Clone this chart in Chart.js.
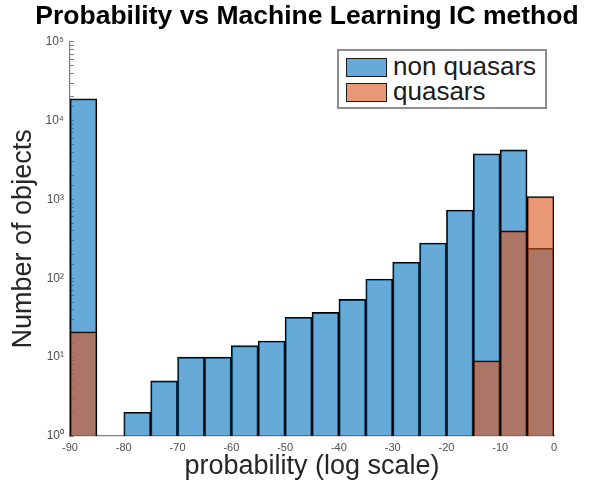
<!DOCTYPE html>
<html lang="en">
    <head>
        <meta charset="UTF-8" />
        <title>Probability vs Machine Learning IC method</title>
        <script src="https://cdn.jsdelivr.net/npm/chart.js"></script>
        <style>
            body {
                margin: 0;
                background: #fff;
                font-family: "Liberation Sans", Arial, sans-serif;
            }
            .wrap {
                position: relative;
                width: 594px;
                height: 483px;
            }
            .legend {
                position: absolute;
                left: 337px;
                top: 49px;
                width: 206px;
                height: 56px;
                border: 2px solid #8c8c8c;
                background: #fff;
            }
            .legend .item {
                position: absolute;
                left: 7px;
                height: 25px;
                line-height: 25px;
                font-size: 26px;
                color: #1a1a1a;
                white-space: nowrap;
            }
            .legend .swatch {
                position: absolute;
                left: 0;
                width: 39px;
                height: 17px;
                border: 1.5px solid #1a1a1a;
            }
            .legend .text {
                position: absolute;
                left: 47px;
                top: 0;
            }
        </style>
    </head>
    <body>
        <div class="wrap">
            <canvas id="histChart" width="594" height="483"></canvas>
            <div class="legend" id="legend"></div>
        </div>

        <script>
            // bin centres (5 wide, -90 .. 0)
            const binCenters = [-87.5, -82.5, -77.5, -72.5, -67.5, -62.5, -57.5, -52.5, -47.5, -42.5, -37.5, -32.5, -27.5, -22.5, -17.5, -12.5, -7.5, -2.5];
            const nonQuasars = [18900, null, 2, 5, 10, 10, 14, 16, 32, 37, 54, 98, 160, 280, 735, 3800, 4250, 240];
            const quasars = [21, null, null, null, null, null, null, null, null, null, null, null, null, null, null, 9, 400, 1090];
            const xTicks = [-90, -80, -70, -60, -50, -40, -30, -20, -10, 0];
            const yDecades = [1, 10, 100, 1000, 10000, 100000];
            const supers = ["⁰", "¹", "²", "³", "⁴", "⁵"];

            const blue = "rgba(0, 114, 189, 0.6)";
            const orange = "rgba(217, 83, 25, 0.6)";

            const toPoints = (vals) => binCenters.map((x, i) => ({ x: x, y: vals[i] }));

            const chart = new Chart(document.getElementById("histChart"), {
                type: "bar",
                data: {
                    datasets: [
                        {
                            label: "non quasars",
                            data: toPoints(nonQuasars),
                            backgroundColor: blue,
                            borderColor: "#000",
                            borderWidth: 1.2,
                            order: 2,
                        },
                        {
                            label: "quasars",
                            data: toPoints(quasars),
                            backgroundColor: orange,
                            borderColor: "#000",
                            borderWidth: 1.2,
                            order: 1,
                        },
                    ],
                },
                options: {
                    responsive: false,
                    animation: false,
                    grouped: false,
                    barPercentage: 1,
                    categoryPercentage: 1,
                    layout: { padding: { left: 20, right: 0, top: 0, bottom: 0 } },
                    plugins: {
                        legend: { display: false },
                        tooltip: { enabled: false },
                        title: {
                            display: true,
                            text: "Probability vs Machine Learning IC method",
                            color: "#000",
                            font: { family: "Liberation Sans", size: 26.5, weight: "bold", lineHeight: 1.2 },
                            padding: { top: 1, bottom: 9 },
                        },
                    },
                    scales: {
                        x: {
                            type: "linear",
                            min: -90,
                            max: 0,
                            offset: false,
                            afterBuildTicks: (scale) => {
                                scale.ticks = xTicks.map((v) => ({ value: v }));
                            },
                            afterFit: (scale) => {
                                scale.height = 47;
                            },
                            ticks: {
                                color: "#4d4d4d",
                                font: { family: "Liberation Sans", size: 11 },
                                padding: 5,
                                maxRotation: 0,
                                autoSkip: false,
                            },
                            grid: { display: true, drawOnChartArea: false, drawTicks: false },
                            border: { color: "#808080", width: 1.2 },
                            title: {
                                display: true,
                                text: "probability (log scale)",
                                color: "#262626",
                                font: { family: "Liberation Sans", size: 27, lineHeight: 1.2 },
                                padding: { top: 0, bottom: 0 },
                            },
                        },
                        y: {
                            type: "logarithmic",
                            min: 1,
                            max: 100000,
                            afterFit: (scale) => {
                                scale.width = 50;
                            },
                            ticks: {
                                autoSkip: false,
                                color: "#4d4d4d",
                                font: { family: "Liberation Sans", size: 12 },
                                padding: 10,
                                callback: (value) => {
                                    const k = yDecades.indexOf(value);
                                    return k >= 0 ? "10" + supers[k] : "";
                                },
                            },
                            grid: { drawOnChartArea: false, drawTicks: true, tickLength: -4, color: "#808080" },
                            border: { color: "#808080", width: 1.2 },
                            title: {
                                display: true,
                                text: "Number of objects",
                                color: "#262626",
                                font: { family: "Liberation Sans", size: 27, lineHeight: 1.2 },
                                padding: { top: -13, bottom: 0 },
                            },
                        },
                        // empty right margin so the title centres like the reference
                        spacer: {
                            type: "linear",
                            position: "right",
                            display: true,
                            afterFit: (scale) => {
                                scale.width = 40;
                            },
                            ticks: { display: false },
                            grid: { display: false },
                            border: { display: false },
                        },
                    },
                },
            });

            // legend box drawn from the dataset settings
            const legendDiv = document.getElementById("legend");
            legendDiv.innerHTML = chart.data.datasets
                .map(
                    (ds, i) => `
                    <div class="item" style="top:${2.5 + i * 25}px">
                        <span class="swatch" style="top:${4 + (i === 0 ? 0 : 0.5)}px;background:${ds.backgroundColor}"></span>
                        <span class="text">${ds.label}</span>
                    </div>`
                )
                .join("");
        </script>
    </body>
</html>
